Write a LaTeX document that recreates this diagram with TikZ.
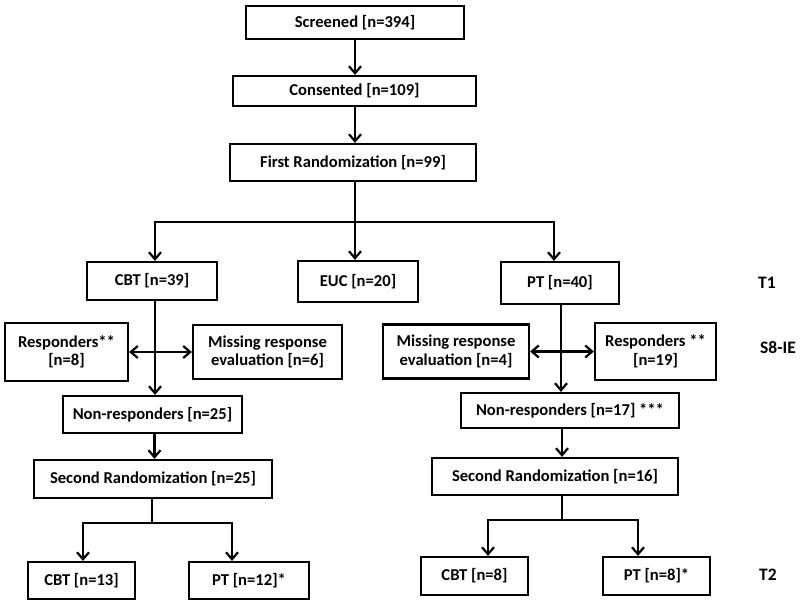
\documentclass[tikz,border=0pt]{standalone}
\usepackage{fontspec}
\setmainfont{Carlito}
\usetikzlibrary{arrows.meta}

\begin{document}
\begin{tikzpicture}[x=1pt,y=1pt]
		\tikzstyle{every node}+=[inner sep=0pt]
		\tikzstyle{box}=[draw, line width=2.2pt, align=center, font=\fontsize{16.6}{18.5}\selectfont\bfseries]
		\tikzstyle{lbl}=[font=\fontsize{17.5}{19}\selectfont\bfseries]
		\tikzstyle{arr}=[line width=2.2pt, -{Straight Barb[length=7pt,width=12pt,line width=2.2pt]}]
		\tikzstyle{dbl}=[line width=2.2pt, {Straight Barb[length=7pt,width=12pt,line width=2.2pt]}-{Straight Barb[length=7pt,width=12pt,line width=2.2pt]}]
		\tikzstyle{ln}=[line width=2.2pt]
		\useasboundingbox (0,0) rectangle (800,-602);
		% top of the flow
		\node [box, minimum width=218, minimum height=33] (screened) at (355,-22.5) {Screened [n=394]};
		\node [box, minimum width=243, minimum height=30] (consented) at (354.5,-91) {Consented [n=109]};
		\node [box, minimum width=246, minimum height=37] (rand1) at (353,-162.5) {First Randomization [n=99]};
		% arms
		\node [box, minimum width=130, minimum height=38] (cbt1) at (152,-281) {CBT [n=39]};
		\node [box, minimum width=120, minimum height=41] (euc) at (358,-281.5) {EUC [n=20]};
		\node [box, minimum width=118, minimum height=42] (pt1) at (560,-283) {PT [n=40]};
		\node [lbl] (t1) at (767,-283) {T1};
		% response evaluation
		\node [box, minimum width=123, minimum height=58] (resp1) at (66.5,-352) {Responders**\\{[n=8]}};
		\node [box, minimum width=149, minimum height=54] (miss1) at (267.5,-352) {Missing response\\evaluation [n=6]};
		\node [box, minimum width=146, minimum height=54] (miss2) at (456,-351.5) {Missing response\\evaluation [n=4]};
		\node [box, minimum width=121, minimum height=57] (resp2) at (655.5,-351.5) {Responders **\\{[n=19]}};
		\node [lbl] (s8) at (778,-348) {S8-IE};
		\node [box, minimum width=179, minimum height=37] (nonr1) at (152.5,-414.5) {Non-responders [n=25]};
		\node [box, minimum width=218, minimum height=35] (nonr2) at (570,-410.5) {Non-responders [n=17] ***};
		% second randomization
		\node [box, minimum width=238, minimum height=38] (rand2a) at (153,-479) {Second Randomization [n=25]};
		\node [box, minimum width=246, minimum height=37] (rand2b) at (555,-476.5) {Second Randomization [n=16]};
		\node [box, minimum width=107, minimum height=37] (cbt2a) at (81.5,-580.5) {CBT [n=13]};
		\node [box, minimum width=120, minimum height=37] (pt2a) at (249,-580.5) {PT [n=12]*};
		\node [box, minimum width=107, minimum height=38] (cbt2b) at (474.5,-576) {CBT [n=8]};
		\node [box, minimum width=107, minimum height=38] (pt2b) at (656.5,-576) {PT [n=8]*};
		\node [lbl] (t2) at (768,-575) {T2};
		% split points
		\coordinate (j1) at (355,-222);
		\coordinate (j2) at (152,-523);
		\coordinate (j3) at (562,-520);
		% connectors
		\draw [arr] (screened.south) -- (consented.north -| screened.south);
		\draw [arr] (consented.south -| screened.south) -- (rand1.north -| screened.south);
		\draw [ln] (rand1.south -| j1) -- (j1);
		\draw [arr] (j1) -| ([xshift=3pt]cbt1.north);
		\draw [arr] (j1) -- (euc.north -| j1);
		\draw [arr] (j1) -| ([xshift=-6pt]pt1.north);
		\draw [arr] ([xshift=3pt]cbt1.south) -- ([xshift=3pt]cbt1.south |- nonr1.north);
		\draw [dbl] (resp1.east) -- (miss1.west);
		\draw [arr] ([xshift=2pt]nonr1.south) -- ([xshift=2pt]nonr1.south |- rand2a.north);
		\draw [ln] (rand2a.south -| j2) -- (j2);
		\draw [arr] (j2) -| ([xshift=1.5pt]cbt2a.north);
		\draw [arr] (j2) -| ([xshift=-17pt]pt2a.north);
		\draw [arr] ([xshift=1pt]pt1.south) -- ([xshift=1pt]pt1.south |- nonr2.north);
		\draw [dbl] (miss2.east) -- (resp2.west);
		\draw [arr] (nonr2.south -| j3) -- (rand2b.north -| j3);
		\draw [ln] (rand2b.south -| j3) -- (j3);
		\draw [arr] (j3) -| ([xshift=13.5pt]cbt2b.north);
		\draw [arr] (j3) -| ([xshift=-18.5pt]pt2b.north);
	\end{tikzpicture}
\end{document}
